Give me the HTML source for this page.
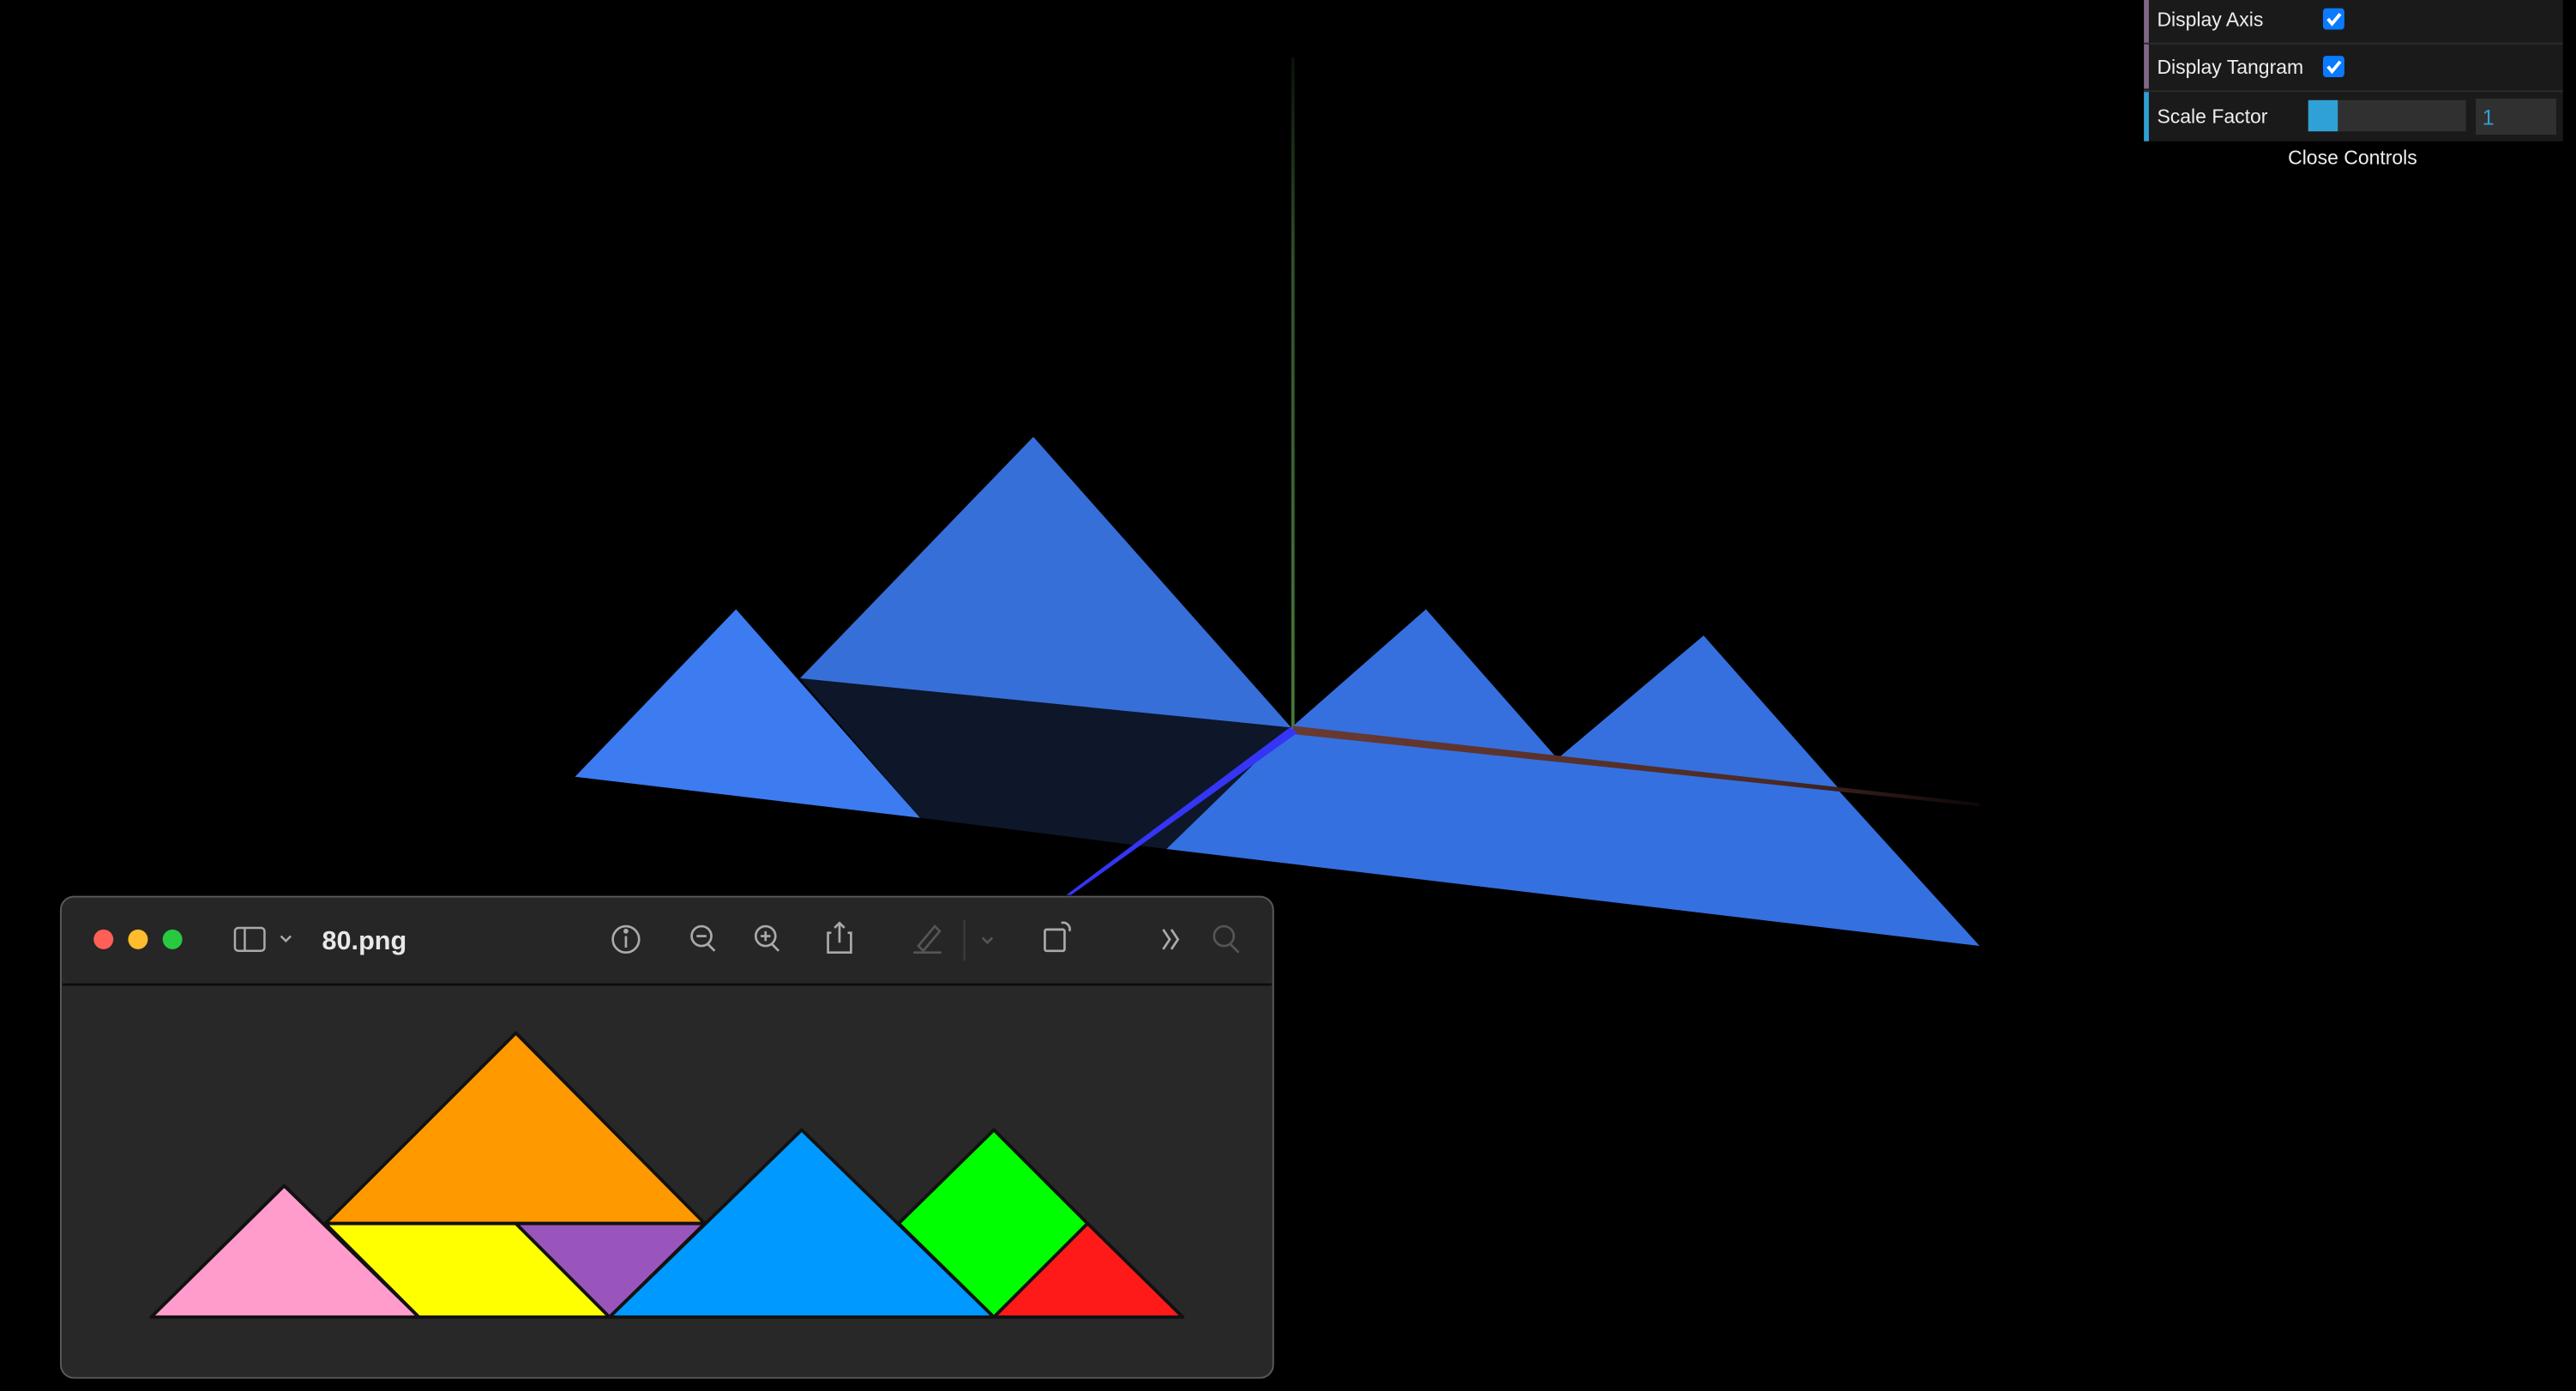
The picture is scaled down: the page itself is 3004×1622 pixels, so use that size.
<!DOCTYPE html>
<html><head><meta charset="utf-8"><style>
html,body{margin:0;padding:0;background:#000;width:3004px;height:1622px;overflow:hidden}
svg{display:block}
text{font-family:"Liberation Sans",sans-serif}
</style></head><body>
<svg width="3004" height="1622" viewBox="0 0 1568 847" preserveAspectRatio="none">
<defs>
 <linearGradient id="gy" x1="0" y1="1" x2="0" y2="0"><stop offset="0" stop-color="#447a38"/><stop offset="0.7" stop-color="#2e5026"/><stop offset="1" stop-color="#0a1208"/></linearGradient>
 <linearGradient id="gx" x1="787" y1="0" x2="1205" y2="0" gradientUnits="userSpaceOnUse"><stop offset="0" stop-color="#6a3a32"/><stop offset="0.7" stop-color="#4a2a26"/><stop offset="1" stop-color="#0d0706"/></linearGradient>
</defs>
<rect width="1568" height="847" fill="#000"/>
<g>
 <polygon points="487,413 786,443 710,517 560,498" fill="#0d1729"/>
 <polygon points="487,413 629,266 786,443" fill="#376fd9"/>
 <polygon points="350,473 448,371 560,498" fill="#3c7cf0"/>
 <polygon points="786,443 1117,479 1205,576 710,517" fill="#3570e0"/>
 <polygon points="786,443 868,371 948,462" fill="#3670de"/>
 <polygon points="948,462 1037,387 1120,481" fill="#3670de"/>
 <rect x="786" y="35" width="2" height="408" fill="url(#gy)"/>
 <polygon points="787,442 1205,489 1205,491 787,447" fill="url(#gx)"/>
 <polygon points="785,443 790,446 652,545 649,545" fill="#3535f5"/>
</g>
<g>
 <rect x="1305" y="0" width="255" height="86" fill="#1a1a1a"/>
 <rect x="1305" y="0" width="3" height="54" fill="#806787"/>
 <rect x="1305" y="55" width="3" height="31" fill="#2fa1d6"/>
 <line x1="1305" y1="26.5" x2="1560" y2="26.5" stroke="#2c2c2c"/>
 <line x1="1305" y1="55.5" x2="1560" y2="55.5" stroke="#2c2c2c"/>
 <text x="1313" y="16" font-size="12" fill="#eee">Display Axis</text>
 <rect x="1414" y="5" width="13" height="13" rx="2" fill="#0a7aff"/>
 <path d="M1417,11.5 l2.5,3 l5,-6" stroke="#fff" stroke-width="2" fill="none"/>
 <text x="1313" y="45" font-size="12" fill="#eee">Display Tangram</text>
 <rect x="1414" y="34" width="13" height="13" rx="2" fill="#0a7aff"/>
 <path d="M1417,40.5 l2.5,3 l5,-6" stroke="#fff" stroke-width="2" fill="none"/>
 <text x="1313" y="75" font-size="12" fill="#eee">Scale Factor</text>
 <rect x="1405" y="61" width="96" height="19" fill="#303030"/>
 <rect x="1405" y="61" width="18" height="19" fill="#2fa1d6"/>
 <rect x="1507" y="60" width="49" height="22" fill="#303030"/>
 <text x="1511" y="76" font-size="13" fill="#2fa1d6">1</text>
 <text x="1432" y="100" font-size="12" fill="#eee" text-anchor="middle">Close Controls</text>
</g>
<g>
 <rect x="37" y="546" width="738" height="293" rx="8" fill="#282828" stroke="#5a5a5a"/>
 <rect x="38" y="547" width="736" height="52" rx="7" fill="#262626"/>
 <line x1="38" y1="599.5" x2="774" y2="599.5" stroke="#0d0d0d" stroke-width="1.5"/>
 <circle cx="63" cy="572" r="6" fill="#fe5f57"/>
 <circle cx="84" cy="572" r="6" fill="#febc2e"/>
 <circle cx="105" cy="572" r="6" fill="#28c840"/>
 <g stroke="#aaa" fill="none" stroke-width="1.3">
  <rect x="143" y="565" width="18" height="14" rx="2"/><line x1="149" y1="565" x2="149" y2="579"/>
  <path d="M171,570 l3,3 l3,-3"/>
 </g>
 <text x="196" y="578" font-size="16" font-weight="bold" fill="#e8e8e8">80.png</text>
 <g stroke="#aaa" fill="none" stroke-width="1.4">
  <g><circle cx="381" cy="572" r="8"/><line x1="381" y1="570" x2="381" y2="577"/><circle cx="381" cy="567" r="0.8" fill="#aaa"/></g>
  <g><circle cx="427" cy="570" r="6"/><line x1="431" y1="575" x2="435" y2="579"/><line x1="424" y1="570" x2="430" y2="570"/></g>
  <g><circle cx="466" cy="570" r="6"/><line x1="470" y1="575" x2="474" y2="579"/><line x1="463" y1="570" x2="469" y2="570"/><line x1="466" y1="567" x2="466" y2="573"/></g>
  <g><path d="M506,568 h-2 v12 h14 v-12 h-2"/><path d="M511,574 v-12 M508,565 l3,-3 l3,3"/></g>
  <g stroke="#555"><path d="M559,576 l10,-12 l3,3 l-10,12 z"/><line x1="556" y1="580" x2="573" y2="580"/><path d="M598,571 l3,3 l3,-3"/></g>
  <line x1="587" y1="560" x2="587" y2="585" stroke="#3a3a3a"/>
  <g><rect x="636" y="566" width="12" height="13" rx="1"/><path d="M646,562 a4,4 0 0 1 5,5"/></g>
  <g><path d="M708,566 l4,6 l-4,6 M713,566 l4,6 l-4,6"/></g>
  <g stroke="#555"><circle cx="745" cy="570" r="6"/><line x1="749" y1="575" x2="754" y2="580"/></g>
 </g>
 <g stroke="#111" stroke-width="2" stroke-linejoin="round">
  <polygon points="92,802 173,722 255,802" fill="#ff9ccc"/>
  <polygon points="198,745 314,629 429,745" fill="#ff9900"/>
  <polygon points="198,745 314,745 371,802 255,802" fill="#ffff00"/>
  <polygon points="314,745 429,745 371,802" fill="#9955bb"/>
  <polygon points="371,802 488,688 605,802" fill="#0099ff"/>
  <polygon points="547,745 605,688 662,745 605,802" fill="#00ff00"/>
  <polygon points="605,802 662,745 720,802" fill="#ff1a1a"/>
 </g>
</g>
</svg>
</body></html>
